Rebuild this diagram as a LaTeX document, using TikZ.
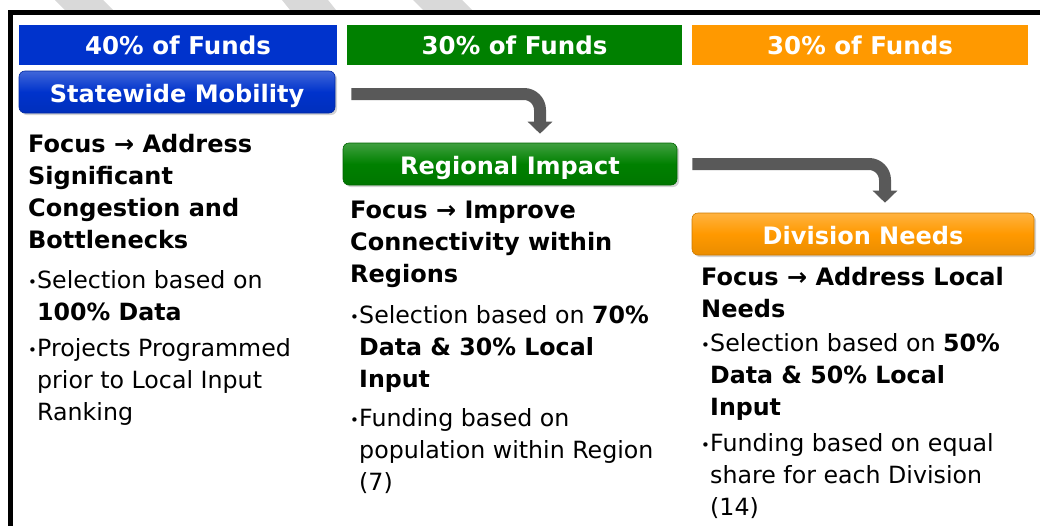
\documentclass[tikz,border=0pt]{standalone}
\usepackage{fontspec}
\setmainfont{DejaVu Sans}
\usetikzlibrary{arrows.meta,shadows}
\definecolor{fundblue}{RGB}{0,51,204}
\definecolor{fundgreen}{RGB}{0,128,0}
\definecolor{fundorange}{RGB}{255,153,0}
\definecolor{flowgrey}{RGB}{89,89,89}
\definecolor{stripegrey}{RGB}{217,217,217}
\newcommand{\bodysize}{\fontsize{23.7}{32}\selectfont}
\newcommand{\bul}{\makebox[8pt][l]{\hspace*{-1pt}\raisebox{1pt}{\fontsize{15}{15}\selectfont •}}}
\newcommand{\ind}{\hspace*{8pt}}
\tikzset{
  fundbar/.style={fill=#1, text=white, minimum height=40pt, inner sep=0pt, font=\fontsize{24.5}{30}\selectfont\bfseries},
  program/.style={rounded corners=6pt, top color=#1!75!white, bottom color=#1!92!black, middle color=#1, draw=#1!80!black, line width=0.6pt, text=white, minimum height=42pt, text height=21pt, text depth=0pt, inner sep=0pt, font=\fontsize{24}{30}\selectfont\bfseries, drop shadow={shadow xshift=2pt, shadow yshift=-2pt, opacity=0.35}},
  focus/.style={anchor=base west, align=left, inner sep=0pt, font=\fontsize{24}{32}\selectfont\bfseries},
  detail/.style={anchor=base west, align=left, inner sep=0pt, font=\bodysize},
  flow/.style={draw=flowgrey, line width=12pt, rounded corners=16pt, -{Triangle[width=24pt,length=12pt]}}
}
\begin{document}
\begin{tikzpicture}[x=1pt,y=-1pt]
\useasboundingbox (0,0) rectangle (1040,525);
\clip (0,0) rectangle (1040,525);
% stripes behind the frame
\fill[stripegrey] (55,0) -- (103,0) -- (113,10) -- (65,10) -- cycle
  (282,0) -- (328,0) -- (336,10) -- (290,10) -- cycle
  (413,0) -- (462,0) -- (472,10) -- (423,10) -- cycle;
\draw[line width=4.5pt] (10.5,540) -- (10.5,12.5) -- (1050,12.5);

% funding shares
\node[fundbar=fundblue, minimum width=318pt] (h1) at (178,45) {40\% of Funds};
\node[fundbar=fundgreen, minimum width=335pt] (h2) at (514.5,45) {30\% of Funds};
\node[fundbar=fundorange, minimum width=336pt] (h3) at (860,45) {30\% of Funds};

% programs
\node[program=fundblue, minimum width=316pt] (sm) at (177,92) {Statewide Mobility};
\node[program=fundgreen, minimum width=334pt] (ri) at (510,164) {Regional Impact};
\node[program=fundorange, minimum width=342pt] (dn) at (863,234) {Division Needs};

\draw[flow] ([xshift=16pt,yshift=-2pt]sm.east) -| ([xshift=30pt,yshift=9pt]ri.north);
\draw[flow] ([xshift=15pt]ri.east) -| ([xshift=22pt,yshift=10pt]dn.north);

% statewide (placed at the baseline of the last line)
\node[focus] (f1) at (28,248) {Focus → Address\\Significant\\Congestion and\\Bottlenecks};
\node[detail] (s1) at (29,320) {\bul Selection based on\\\ind\textbf{100\% Data}};
\node[detail] (p1) at (29,420) {\bul Projects Programmed\\\ind prior to Local Input\\\ind Ranking};

% regional
\node[focus] (f2) at (350,282) {Focus → Improve\\Connectivity within\\Regions};
\node[detail] (s2) at (351,387) {\bul Selection based on \textbf{70\%}\\\ind\textbf{Data \& 30\% Local}\\\ind\textbf{Input}};
\node[detail] (p2) at (351,490) {\bul Funding based on\\\ind population within Region\\\ind (7)};

% division
\node[focus] (f3) at (701,317) {Focus → Address Local\\Needs};
\node[detail] (s3) at (702,415) {\bul Selection based on \textbf{50\%}\\\ind\textbf{Data \& 50\% Local}\\\ind\textbf{Input}};
\node[detail] (p3) at (702,515) {\bul Funding based on equal\\\ind share for each Division\\\ind (14)};
\end{tikzpicture}
\end{document}
